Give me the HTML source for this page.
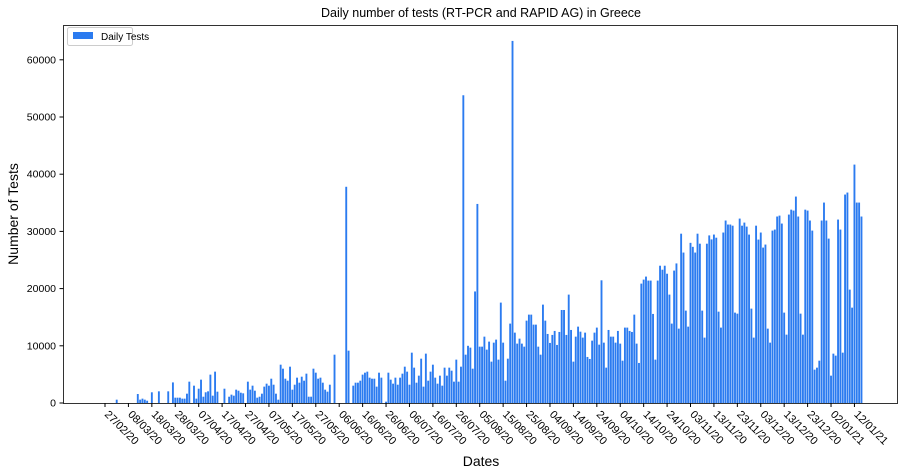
<!DOCTYPE html>
<html><head><meta charset="utf-8"><style>
body{margin:0;background:#fff;}
svg{display:block;font-family:"Liberation Sans",sans-serif;}
</style></head><body>
<svg id="chart" width="907" height="474">
<text x="481" y="17" text-anchor="middle" font-size="12.5">Daily number of tests (RT-PCR and RAPID AG) in Greece</text>
<text transform="translate(18,214) rotate(-90)" text-anchor="middle" font-size="14">Number of Tests</text>
<text x="481" y="466" text-anchor="middle" font-size="14">Dates</text>
<g id="bars"></g>
<g id="yaxis"></g>
<g id="xaxis"></g>
<rect x="63.5" y="25.5" width="834" height="378" fill="none" stroke="#000" stroke-width="0.8"/>
<g>
<rect x="67.5" y="27.5" width="65" height="18" rx="2" fill="#fff" stroke="#ccc"/>
<rect x="73" y="32" width="20" height="7" fill="#2b7bf0"/>
<text x="101" y="40" font-size="10">Daily Tests</text>
</g>
</svg>
<script>
const tickLabels=["27/02/20","08/03/20","18/03/20","28/03/20","07/04/20","17/04/20","27/04/20","07/05/20","17/05/20","27/05/20","06/06/20","16/06/20","26/06/20","06/07/20","16/07/20","26/07/20","05/08/20","15/08/20","25/08/20","04/09/20","14/09/20","24/09/20","04/10/20","14/10/20","24/10/20","03/11/20","13/11/20","23/11/20","03/12/20","13/12/20","23/12/20","02/01/21","12/01/21"];
const yTicks=[0,10000,20000,30000,40000,50000,60000];
const dailyTests=[0,0,0,0,0,580,0,0,0,0,0,0,0,0,
1570,580,760,580,400,0,1870,0,0,2040,0,0,0,2040,0,3600,
930,930,930,760,760,1630,3730,0,3030,760,2500,4080,1100,1870,2040,4960,1280,5480,1980,0,
0,2500,0,1100,1460,1280,2330,2150,1800,1690,0,3730,2330,3030,2150,930,1100,1630,2860,3380,
3030,4250,3200,1630,580,6700,6000,4250,3900,6350,2330,3200,4430,3550,4600,3900,5130,1100,1100,6000,
5300,4250,4430,3550,2330,1980,3200,0,8450,0,0,0,0,37800,9150,0,3030,3550,3550,3900,
4960,5300,5480,4430,4250,4250,2860,5300,4430,0,230,5300,4080,3380,4430,3200,4430,5130,6350,5480,
3200,8800,6180,3550,4780,7750,2860,8630,3900,5480,6700,4430,3380,4780,3030,6180,4780,6180,5650,3730,
7580,3730,6350,53800,8450,10000,9680,6000,19500,34800,9850,9850,11600,9330,10730,7230,10550,11080,7580,17550,
10550,3900,7750,13880,63300,12300,10380,11250,10380,9850,
14400,15450,15450,13700,13700,9850,8450,17200,14400,12070,10500,11900,12600,10150,12420,16260,16260,11900,18950,12770,
7230,11600,13350,12470,11430,12300,8050,7700,10900,12300,13180,10200,21450,10550,6180,12770,11600,11600,10550,12600,
10380,7400,13180,13180,12600,12420,15450,10380,7000,20870,21570,22100,21400,21400,15570,7580,21400,24000,23300,24000,
22600,18950,13880,23150,24400,13000,29600,26300,16150,13350,28000,27300,26300,29600,27850,16150,11430,27850,29300,28600,
29450,28900,15970,13180,29800,31900,31200,31200,31000,15800,15620,32240,31000,31540,30840,29440,16500,11430,31000,28570,
29800,27170,27700,13000,10550,30140,30320,32600,32760,31370,15800,11950,32940,33800,33640,36090,32600,15620,11950,33800,
33640,31900,30140,5830,6180,7400,31900,35040,31900,28740,4780,8630,8280,32070,30320,8800,36440,36790,19820,16670,
41680,35040,35040,32600];
const NS="http://www.w3.org/2000/svg";
function xScale(d){return 105+d*2.342;}
function yScale(v){return 403-v*0.00572;}
const bars=document.getElementById('bars');
dailyTests.forEach((v,i)=>{
  if(v<=0)return;
  const r=document.createElementNS(NS,'rect');
  r.setAttribute('x',(xScale(i)-0.94).toFixed(2));
  r.setAttribute('width','1.88');
  r.setAttribute('y',yScale(v).toFixed(2));
  r.setAttribute('height',(403-yScale(v)).toFixed(2));
  r.setAttribute('fill','#2b7bf0');
  
  
  bars.appendChild(r);
});
const ya=document.getElementById('yaxis');
yTicks.forEach(t=>{
  const y=yScale(t);
  const l=document.createElementNS(NS,'line');
  l.setAttribute('x1',59.5);l.setAttribute('x2',63.5);l.setAttribute('y1',y);l.setAttribute('y2',y);l.setAttribute('stroke','#000');
  
  
  ya.appendChild(l);
  const tx=document.createElementNS(NS,'text');
  tx.setAttribute('x',56);tx.setAttribute('y',y+3.5);tx.setAttribute('text-anchor','end');tx.setAttribute('font-size','10.5');
  tx.textContent=t;
  
  
  ya.appendChild(tx);
});
const xa=document.getElementById('xaxis');
tickLabels.forEach((lab,i)=>{
  const x=xScale(i*10);
  const l=document.createElementNS(NS,'line');
  l.setAttribute('x1',x);l.setAttribute('x2',x);l.setAttribute('y1',403);l.setAttribute('y2',407);l.setAttribute('stroke','#000');
  
  
  xa.appendChild(l);
  const tx=document.createElementNS(NS,'text');
  tx.setAttribute('transform','translate('+(x-1)+',415) rotate(45)');
  tx.setAttribute('font-size','11');
  tx.textContent=lab;
  
  
  xa.appendChild(tx);
});
</script>
</body></html>
